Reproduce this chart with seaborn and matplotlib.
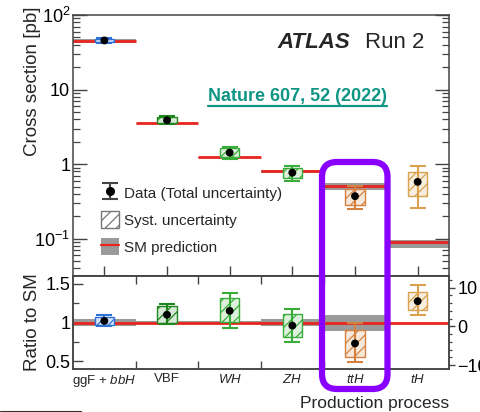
import numpy as np
import matplotlib
matplotlib.use("Agg")
import matplotlib.pyplot as plt
import seaborn as sns
import pandas as pd
from matplotlib.patches import Rectangle, Patch, FancyBboxPatch
from matplotlib.lines import Line2D
from matplotlib.ticker import FixedLocator, FixedFormatter, NullFormatter, LogLocator, MultipleLocator

# ---- data -----------------------------------------------------------------
processes = ["ggF + bbH", "VBF", "WH", "ZH", "ttH", "tH"]
tick_labels = ["ggF + $bbH$", "VBF", "$WH$", "$ZH$", "$ttH$", "$tH$"]
sm_xsec = [44.7, 3.52, 1.24, 0.80, 0.51, 0.089]          # pb
sm_unc_up = [0.05, 0.021, 0.018, 0.04, 0.095, 0.065]      # relative
sm_unc_dn = [0.05, 0.021, 0.018, 0.04, 0.11, 0.15]
ratio = [1.02, 1.10, 1.15, 0.96, 0.73, 6.5]               # measured / SM
tot_up = [0.075, 0.14, 0.235, 0.215, 0.26, 4.1]
tot_dn = [0.07, 0.12, 0.215, 0.215, 0.235, 3.6]
syst_up = [0.055, 0.11, 0.16, 0.145, 0.17, 2.45]
syst_dn = [0.055, 0.10, 0.145, 0.145, 0.17, 2.3]
colors = ["#2f72d6", "#1f871f", "#3aac3a", "#3aac3a", "#d4813f", "#d8a24e"]

df = pd.DataFrame({
    "process": processes,
    "x": np.arange(len(processes)),
    "sm": sm_xsec,
    "ratio": ratio,
})
df["xsec"] = df["ratio"] * df["sm"]

# ---- style ----------------------------------------------------------------
sns.set_theme(style="ticks")
plt.rcParams["font.family"] = ["Liberation Sans", "DejaVu Sans"]
plt.rcParams["mathtext.fontset"] = "custom"
plt.rcParams["mathtext.rm"] = "Liberation Sans"
plt.rcParams["mathtext.it"] = "Liberation Sans:italic"
plt.rcParams["mathtext.bf"] = "Liberation Sans:bold"
plt.rcParams["hatch.linewidth"] = 0.9
plt.rcParams["axes.edgecolor"] = "#444444"
plt.rcParams["axes.linewidth"] = 1.1

W, H = 481, 412
fig = plt.figure(figsize=(W / 100, H / 100), dpi=100)
left, right = 73 / W, 449 / W
ax = fig.add_axes([left, 1 - 276 / H, right - left, (276 - 15) / H])
axr = fig.add_axes([left, 1 - 369 / H, right - left, (369 - 276) / H], sharex=ax)
axt = axr.twinx()

GREY = "#9a9a9a"
RED = "#e8251f"
BOX_W = 0.31


def light(c, a=0.18):
    rgb = np.array(matplotlib.colors.to_rgb(c))
    return tuple(1 - a * (1 - rgb))


def draw_process(a, i, centre, sm_lo, sm_hi, s_lo, s_hi, t_lo, t_hi, draw_sm=True, sm_val=None):
    c = colors[i]
    if draw_sm:
        a.add_patch(Rectangle((i - 0.5, sm_lo), 1.0, sm_hi - sm_lo, fc=GREY, ec="none", zorder=1))
        a.hlines(sm_val, i - 0.5, i + 0.5, color=RED, lw=2, zorder=2)
    a.add_patch(Rectangle((i - BOX_W / 2, s_lo), BOX_W, s_hi - s_lo, fc=light(c), ec=c,
                          hatch="///", lw=1.0, zorder=3))
    a.errorbar([i], [centre], yerr=[[centre - t_lo], [t_hi - centre]], fmt="none",
               ecolor=c, elinewidth=1.5, capsize=5.5, capthick=1.5, zorder=4)


# ---- cross-section panel --------------------------------------------------
ax.set_yscale("log")
for i in range(len(processes)):
    sm = sm_xsec[i]
    r = ratio[i]
    draw_process(ax, i, r * sm,
                 sm * (1 - sm_unc_dn[i]), sm * (1 + sm_unc_up[i]),
                 (r - syst_dn[i]) * sm, (r + syst_up[i]) * sm,
                 (r - tot_dn[i]) * sm, (r + tot_up[i]) * sm,
                 draw_sm=True, sm_val=sm)
sns.scatterplot(data=df, x="x", y="xsec", ax=ax, color="black", s=32, edgecolor="none",
                zorder=5, legend=False)

ax.set_xlim(-0.5, 5.5)
ax.set_ylim(10 ** -1.5, 100)
ax.yaxis.set_major_locator(FixedLocator([0.1, 1, 10, 100]))
ax.yaxis.set_major_formatter(FixedFormatter(["$10^{-1}$", "1", "10", "$10^{2}$"]))
ax.yaxis.set_minor_locator(LogLocator(base=10, subs=np.arange(2, 10)))
ax.yaxis.set_minor_formatter(NullFormatter())
ax.tick_params(axis="y", which="major", direction="in", length=10, width=1, left=True, right=True,
               labelsize=13, colors="#444444", labelcolor="black", pad=2)
ax.tick_params(axis="y", which="minor", direction="in", length=5, width=0.9, left=True, right=True,
               colors="#444444")
ax.set_xticks([0.5, 1.5, 2.5, 3.5, 4.5])
ax.tick_params(axis="x", which="major", direction="in", length=7, width=1, bottom=True, top=False,
               labelbottom=False, colors="#444444")
ax.tick_params(axis="x", which="minor", bottom=False, top=False)
ax.set_xlabel("")
ax.set_ylabel("Cross section [pb]", fontsize=13.5)
ax.yaxis.set_label_coords(-0.085, 0.745)

# legend
eb = ax.errorbar([np.nan], [np.nan], yerr=[[1], [1]], fmt="o", color="#444444", mfc="black",
                 mec="black", ms=5.5, elinewidth=1.5, capsize=5.5, capthick=1.5)
h_data = eb
h_syst = Patch(fc="white", ec="#777777", hatch="///", lw=1.0)
h_sm = (Patch(fc=GREY, ec="none"), Line2D([], [], color=RED, lw=1.6))
ax.legend([h_data, h_syst, h_sm],
          ["Data (Total uncertainty)", "Syst. uncertainty", "SM prediction"],
          loc="upper left", bbox_to_anchor=(0.074, 0.352), frameon=False, fontsize=11,
          handlelength=1.2, handleheight=1.37, labelspacing=0.62, handletextpad=0.3,
          borderpad=0, borderaxespad=0)

ax.text(0.545, 0.893, "ATLAS", transform=ax.transAxes, fontsize=16, fontweight="bold",
        fontstyle="italic", va="center", ha="left")
ax.text(0.777, 0.893, "Run 2", transform=ax.transAxes, fontsize=16, va="center", ha="left")
ref = ax.text(0.359, 0.686, "Nature 607, 52 (2022)", transform=ax.transAxes, fontsize=13,
              fontweight="bold", color="#0f9583", va="center", ha="left")

# ---- ratio panel ----------------------------------------------------------
axr.axhline(1.0, color=RED, lw=2, zorder=2)
for i in range(5):
    r = ratio[i]
    axr.add_patch(Rectangle((i - 0.5, 1 - sm_unc_dn[i]), 1.0, sm_unc_up[i] + sm_unc_dn[i],
                            fc=GREY, ec="none", zorder=1))
    draw_process(axr, i, r, None, None, r - syst_dn[i], r + syst_up[i],
                 r - tot_dn[i], r + tot_up[i], draw_sm=False)
sns.scatterplot(data=df.iloc[:5], x="x", y="ratio", ax=axr, color="black", s=32,
                edgecolor="none", zorder=5, legend=False)

# tH on its own ratio scale
i = 5
r = ratio[i]
draw_process(axt, i, r, None, None, r - syst_dn[i], r + syst_up[i],
             r - tot_dn[i], r + tot_up[i], draw_sm=False)
sns.scatterplot(data=df.iloc[5:], x="x", y="ratio", ax=axt, color="black", s=32,
                edgecolor="none", zorder=5, legend=False)

axr.set_ylim(0.4, 1.6)
axt.set_ylim(-11, 13)
axr.set_xlim(-0.5, 5.5)
axr.yaxis.set_major_locator(FixedLocator([0.5, 1.0, 1.5]))
axr.yaxis.set_major_formatter(FixedFormatter(["0.5", "1", "1.5"]))
axr.yaxis.set_minor_locator(FixedLocator([0.75, 1.25]))
axr.tick_params(axis="y", which="major", direction="in", length=7, width=1, left=True, right=False,
                labelsize=13, colors="#444444", labelcolor="black", pad=2)
axr.tick_params(axis="y", which="minor", direction="in", length=4, width=0.9, left=True, right=False,
                colors="#444444")
axr.set_xticks(range(6))
axr.set_xticklabels(tick_labels)
axr.xaxis.set_minor_locator(FixedLocator([0.5, 1.5, 2.5, 3.5, 4.5]))
axr.tick_params(axis="x", which="major", length=0, labelsize=9.5, pad=3)
axr.tick_params(axis="x", which="minor", direction="in", length=6, width=1, bottom=True, top=True,
                colors="#444444")
axr.set_ylabel("Ratio to SM", fontsize=13.5)
axr.yaxis.set_label_coords(-0.085, 0.5)
axr.set_xlabel("Production process", fontsize=12.5, loc="right", labelpad=5)

axt.yaxis.set_major_locator(FixedLocator([-10, 0, 10]))
axt.yaxis.set_minor_locator(MultipleLocator(2))
axt.tick_params(axis="y", which="major", direction="out", length=4, width=1, labelsize=13,
                colors="#444444", labelcolor="black", pad=2)
axt.tick_params(axis="y", which="minor", direction="out", length=2.5, width=0.9, colors="#444444")
axt.set_ylabel("")

for a in (ax, axr, axt):
    for sp in a.spines.values():
        sp.set_color("#444444")
        sp.set_linewidth(1.1)

# highlight around the ttH column
fig.add_artist(FancyBboxPatch((3.22, 0.23), 0.655, 2.27,
                              boxstyle="round,pad=0,rounding_size=0.15",
                              transform=fig.dpi_scale_trans, fill=False,
                              ec="#8a00ff", lw=4.5, zorder=20))

# underline for the reference text
fig.canvas.draw()
bb = ref.get_window_extent(fig.canvas.get_renderer())
fig.add_artist(Line2D([bb.x0, bb.x1], [bb.y0 - 1, bb.y0 - 1], transform=None,
                      color="#0f9583", lw=1.6))

# edge of a neighbouring frame at the bottom-left
fig.add_artist(Line2D([0, 0.81, 0.81], [0.008, 0.008, 0.0], transform=fig.dpi_scale_trans,
                      color="#333333", lw=0.8))

fig.savefig("out.png", dpi=100)
